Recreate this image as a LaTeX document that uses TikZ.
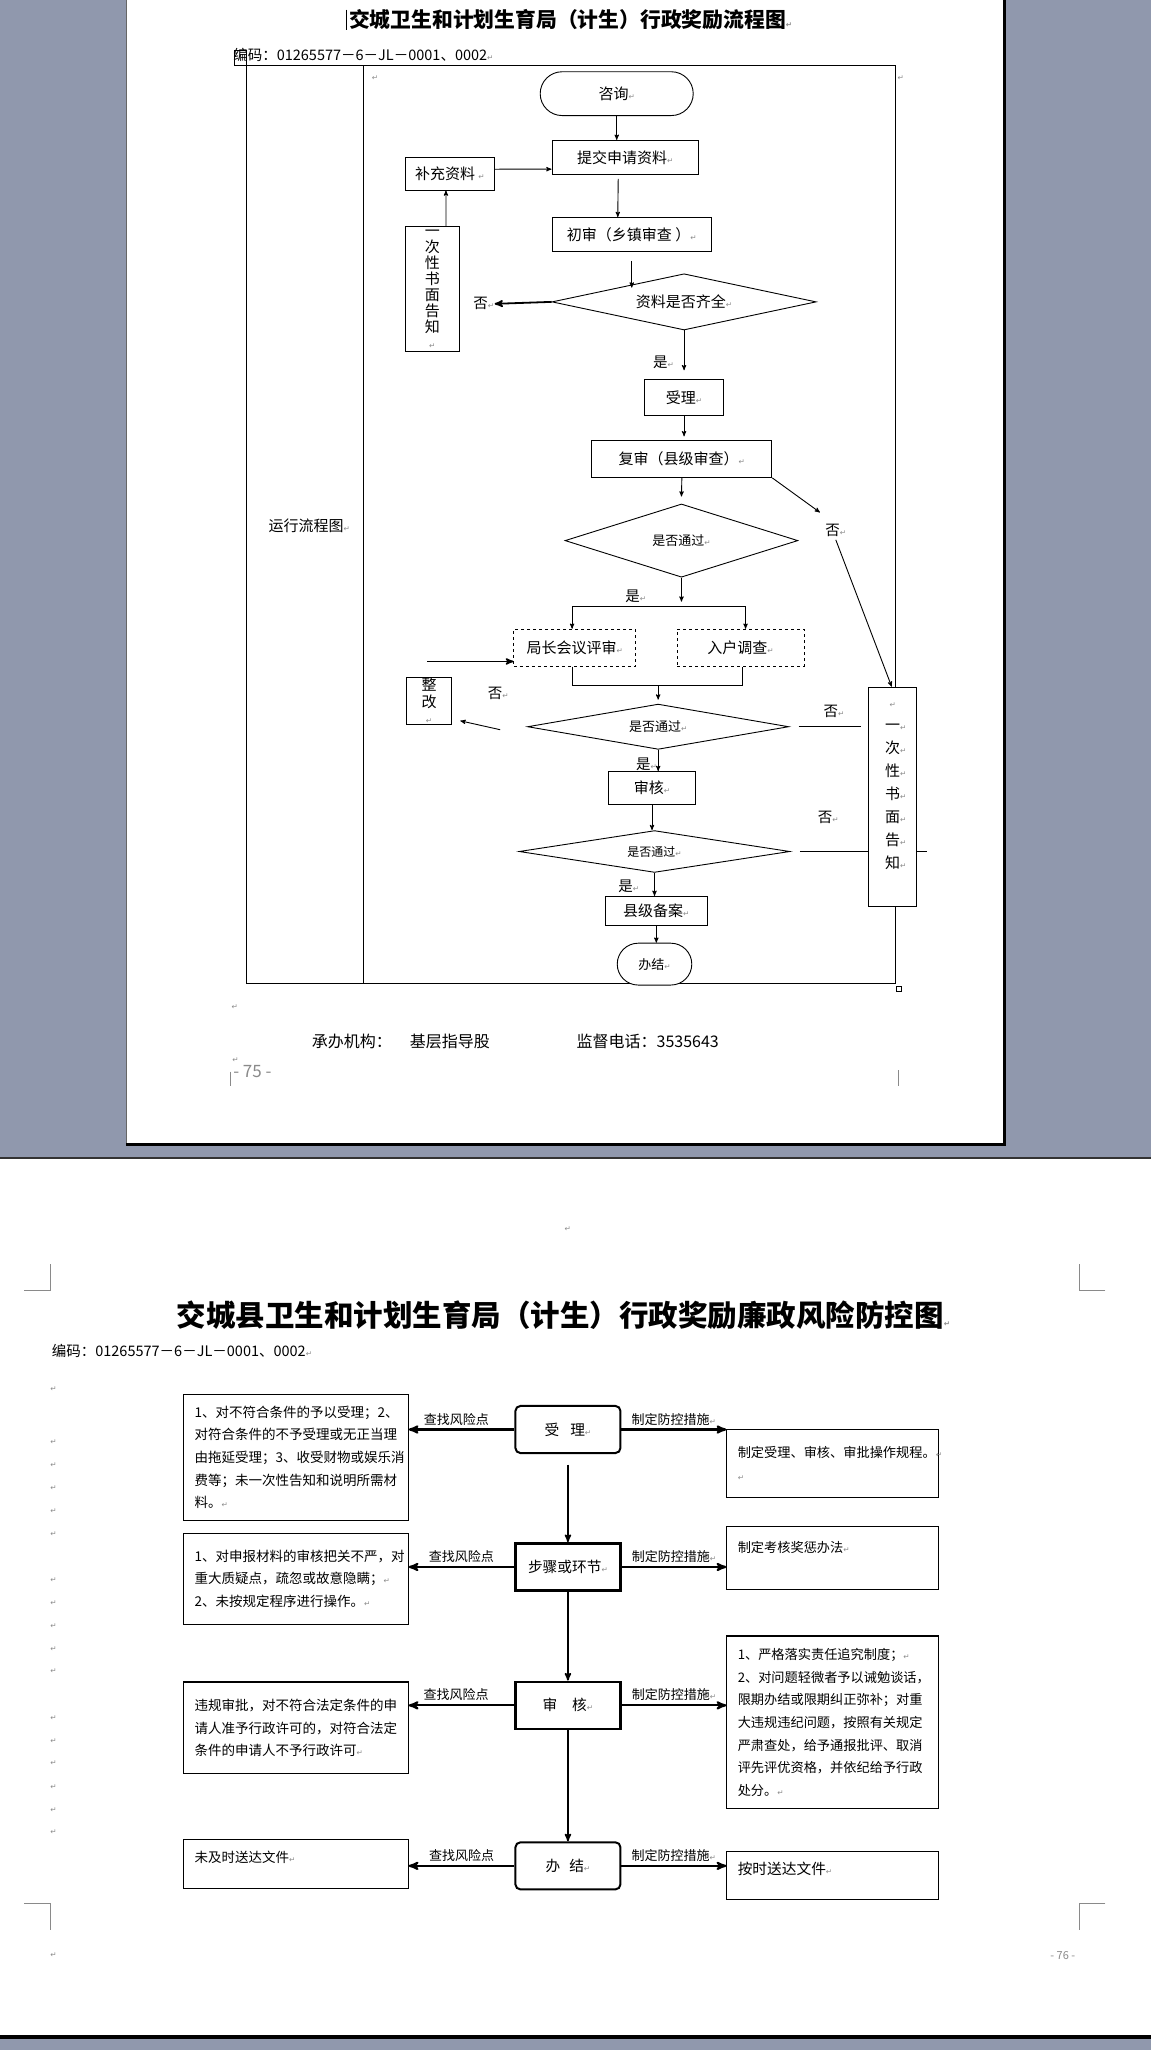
\documentclass[tikz,border=0pt]{standalone}
\usepackage{fontspec}
\setmainfont{Noto Sans CJK SC}
\newfontfamily\dejavu{DejaVu Sans}
\usetikzlibrary{arrows,positioning,shapes,shapes.geometric,shapes.misc}
\definecolor{deskgray}{HTML}{9098AD}
\definecolor{markgray}{HTML}{8A8A8A}
\newcommand\rmk{{\dejavu\color{markgray}\fontsize{7.5}{7.5}\selectfont ↵}}

\begin{document}
\begin{tikzpicture}[>=stealth',x=1.308pt,y=-1.308pt,line width=0.9pt,
  wh/.style 2 args={minimum width=#1*1.308pt,minimum height=#2*1.308pt},
  box/.style={draw,rectangle,fill=white,inner sep=0pt,font=\fontsize{15}{18}\selectfont},
  dbox/.style={box,dashed},
  vbox/.style={box,align=center},
  term/.style={draw,rounded rectangle,fill=white,inner sep=0pt,font=\fontsize{15}{18}\selectfont},
  dec/.style={draw,diamond,fill=white,inner sep=0pt,font=\fontsize{13}{15}\selectfont},
  yn/.style={anchor=west,inner sep=0pt,font=\fontsize{14.5}{17}\selectfont},
  plain/.style={anchor=west,inner sep=0pt},
  stage/.style={draw,rectangle,fill=white,inner sep=0pt,line width=2pt,wh={80.3}{36},font=\fontsize{14.7}{17}\selectfont},
  risk/.style={draw,rectangle,fill=white,line width=1.2pt,inner xsep=11pt,inner ysep=0pt,text width=202.6pt,align=left,font=\fontsize{13.5}{22.6}\selectfont},
  ctrl/.style={risk,inner xsep=10.9pt,text width=189.7pt,font=\fontsize{13.2}{22.6}\selectfont},
  tag/.style={font=\fontsize{13}{15}\selectfont}]

% desk and pages
\fill[deskgray] (0,0) rectangle (880,1567);
\fill[white] (96.5,0) rectangle (766.6,873.6);
\fill[black] (766.6,0) rectangle (769,875.6);
\fill[black] (96.5,873.6) rectangle (769,875.6);
\draw[black!60,line width=0.8pt] (96.5,0) -- (96.5,873.6);
\fill[black!80] (0,884.3) rectangle (880,885.6);
\fill[white] (0,885.6) rectangle (880,1555.8);
\fill[black] (0,1555.8) rectangle (880,1558.3);
\useasboundingbox (0,0) rectangle (880,1567);

% page 75
\draw[line width=0.8pt] (265,7) -- (265,23);
\node[plain,font=\bfseries\fontsize{20.8}{24}\selectfont] (title1) at (266.5,15) {交城卫生和计划生育局（计生）行政奖励流程图\rmk};
\node[plain,font=\fontsize{14.5}{17}\selectfont] (code1) at (178,42) {编码：01265577－6－JL－0001、0002\rmk};
\draw (188.6,49.7) rectangle (684.3,751.6);
\draw (277.8,49.7) -- (277.8,751.6);
\draw[line width=0.6pt] (179.5,38.5) rectangle (188.6,49.7);
\draw[line width=0.6pt] (685,753.5) rectangle (689,757.5);
\node[plain,font=\fontsize{15}{18}\selectfont] (lane) at (205,402) {运行流程图\rmk};
\node[inner sep=0pt] (m1) at (286.7,59.7) {\rmk};
\node[inner sep=0pt] (m2) at (688.6,59.5) {\rmk};

\node[term,wh={117}{33.5}] (zx) at (471.5,71.3) {咨询\rmk};
\node[box,wh={112}{26}] (tj) at (478,120) {提交申请资料\rmk};
\node[box,wh={68}{25}] (bc) at (344,132.5) {补充资料\ \rmk};
\node[box,wh={122}{26}] (cs) at (483,179) {初审（乡镇审查 ）\rmk};
\node[dec,shape aspect=4.7,wh={202}{43},font=\fontsize{15}{18}\selectfont] (d1) at (523,230.5) {资料是否齐全\rmk};
\node[vbox,wh={41}{95.5},font=\fontsize{15}{16}\selectfont] (gz1) at (330.5,220.7) {一\\次\\性\\书\\面\\告\\知\\\rmk};
\node[yn] (no1) at (361.6,232) {否\rmk};
\node[yn] (yes1) at (499,277) {是\rmk};
\node[box,wh={60}{27}] (sl) at (523,303.5) {受理\rmk};
\node[box,wh={137.5}{28}] (fs) at (521.3,350.7) {复审（县级审查）\rmk};
\node[dec,shape aspect=3.2,wh={178}{56}] (d2) at (521,413) {是否通过\rmk};
\node[yn] (no2) at (630.7,405) {否\rmk};
\node[yn] (yes2) at (477.8,455.7) {是\rmk};
\node[dbox,wh={93}{28.3}] (jz) at (439.4,494.9) {局长会议评审\rmk};
\node[dbox,wh={97}{28.3}] (rh) at (566.2,494.9) {入户调查\rmk};
\node[vbox,wh={35}{36},font=\fontsize{15}{16.2}\selectfont] (zg) at (328,535.5) {整\\改\\\rmk};
\node[yn] (no3) at (372.6,530) {否\rmk};
\node[dec,shape aspect=5.8,wh={199.6}{34.6}] (d3) at (503.2,555.3) {是否通过\rmk};
\node[yn] (no4) at (629.3,543.6) {否\rmk};
\node[vbox,wh={37}{167.7},font=\fontsize{15}{23}\selectfont] (gz2) at (682.5,608.9)
  {\rmk\\一\rlap{\rmk}\\次\rlap{\rmk}\\性\rlap{\rmk}\\书\rlap{\rmk}\\面\rlap{\rmk}\\告\rlap{\rmk}\\知\rlap{\rmk}\\\mbox{}};
\node[yn] (yes3) at (485.9,584) {是\rmk};
\node[box,wh={67}{25.5}] (sh) at (498.5,602.3) {审核\rmk};
\node[yn] (no5) at (625,625) {否\rmk};
\node[dec,shape aspect=6.5,wh={207}{32},font=\fontsize{12}{14}\selectfont] (d4) at (500.4,650.7) {是否通过\rmk};
\node[yn] (yes4) at (472.5,677.4) {是\rmk};
\node[box,wh={77.5}{22}] (ba) at (501.8,696) {县级备案\rmk};
\node[term,wh={57}{32},font=\fontsize{13}{15}\selectfont] (bj) at (500.4,736.8) {办结\rmk};

\draw[->] (zx.south) -- (zx.south |- tj.north);
\draw[->] ([yshift=4.5pt]bc.east) -- ([yshift=-11.8pt]tj.west);
\draw[->] ([xshift=-7pt,yshift=-4pt]tj.south) -- ([xshift=-14pt]cs.north);
\draw[->] ([yshift=-9pt]cs.south) -- (cs.south |- d1.north west);
\draw[->,line width=1.8pt] (d1.west) -- (no1.east);
\draw[->] ([xshift=13.7pt]gz1.north) -- ([xshift=-4pt]bc.south);
\draw[->] (d1.south) -- ([yshift=9pt]sl.north);
\draw[->] (sl.south) -- ([yshift=4pt]sl.south |- fs.north);
\draw[->] (fs.south) -- ([yshift=7pt]d2.north);
\draw[->] (fs.south east) -- ([xshift=-5pt,yshift=11pt]no2.north west);
\draw[->] ([yshift=-3pt]no2.south) -- ([xshift=-1pt]gz2.north);
\draw[->] (d2.south) -- ([yshift=-24pt]d2.south);
\coordinate (forkl) at (437.4,463.2);
\coordinate (forkr) at (570,463.2);
\draw (forkl) -- (forkr);
\draw[->] (forkl) -- (forkl |- jz.north);
\draw[->] (forkr) -- (forkr |- rh.north);
\coordinate (mrgl) at (437.4,524);
\coordinate (mrgr) at (568,524);
\draw (jz.south -| mrgl) -- (mrgl) -- (mrgr) -- (rh.south -| mrgr);
\draw[->] (d3.north |- mrgl) -- ([yshift=4pt]d3.north);
\coordinate (jzin) at (326.5,505.4);
\draw[->,line width=1.6pt] (jzin) -- (jzin -| jz.west);
\draw[->] ([xshift=-27pt,yshift=-3pt]d3.west) -- ([xshift=8pt,yshift=4pt]zg.south east);
\draw ([xshift=9.5pt]d3.east) -- ++(47.5,0);
\draw[->] (d3.south) -- (d3.south |- sh.north);
\draw[->] (sh.south) -- (sh.south |- d4.north);
\draw ([xshift=9.5pt]d4.east) -- (gz2.west |- d4.east);
\draw (gz2.east |- d4.east) -- ++(7.4,0);
\draw[->] (d4.south) -- (d4.south |- ba.north);
\draw[->] (ba.south) -- (ba.south |- bj.north);

\node[inner sep=0pt] (m4) at (179.5,770) {\rmk};
\node[plain,font=\fontsize{16}{19}\selectfont] (org) at (238,796) {承办机构：\hspace{18pt}基层指导股};
\node[plain,font=\fontsize{16}{19}\selectfont] (tel) at (440.5,796) {监督电话：3535643};
\node[inner sep=0pt] (m5) at (180,810) {\rmk};
\node[plain,text=markgray,font=\fontsize{17}{20}\selectfont] (pg1) at (178,819) {- 75 -};
\draw[markgray,line width=0.8pt] (176.5,819) -- (176.5,830);
\draw[markgray,line width=0.8pt] (687,818) -- (687,830);

% page 76
\node[inner sep=0pt] (m6) at (434,939.6) {\rmk};
\draw[markgray,line width=0.8pt] (18.5,986) -- (38.2,986) -- (38.2,966.4);
\draw[markgray,line width=0.8pt] (845,986) -- (825,986) -- (825,966.4);
\draw[markgray,line width=0.8pt] (18.5,1455) -- (38.2,1455) -- (38.2,1475.6);
\draw[markgray,line width=0.8pt] (845,1455) -- (825,1455) -- (825,1475.6);
\node[plain,font=\bfseries\fontsize{29.5}{34}\selectfont] (title2) at (134.8,1005) {交城县卫生和计划生育局（计生）行政奖励廉政风险防控图\rmk};
\node[plain,font=\fontsize{14.5}{17}\selectfont] (code2) at (39.3,1032.6) {编码：01265577－6－JL－0001、0002\rmk};
\foreach \yy [count=\i] in {1062,1102,1119.5,1137.4,1155,1172.8,1208,1225.3,1243,1260.2,1277.5,1313,1330.8,1348,1366,1383.3,1400.4,1494.6}
  \node[inner sep=0pt] (pm\i) at (41,\yy) {\rmk};

\node[stage,rounded corners=5pt] (c1) at (434.2,1092.6) {受\hspace{11pt}理\rmk};
\node[stage,line width=2.6pt] (c2) at (434.2,1197.7) {步骤或环节\rmk};
\node[stage,line width=2.4pt] (c3) at (434.2,1303.5) {审\quad 核\rmk};
\node[stage,rounded corners=5pt] (c4) at (434.2,1426.2) {办\hspace{9pt}结\rmk};

\node[risk,minimum height=96.2*1.308pt] (l1) at (226.2,1113.9) {1、对不符合条件的予以受理；2、\\对符合条件的不予受理或无正当理\\由拖延受理；3、收受财物或娱乐消\\费等；未一次性告知和说明所需材\\料。\rmk};
\node[risk,minimum height=69.8*1.308pt] (l2) at (226.2,1206.7) {1、对申报材料的审核把关不严，对\\重大质疑点，疏忽或故意隐瞒；\rmk\\2、未按规定程序进行操作。\rmk};
\node[risk,minimum height=70*1.308pt] (l3) at (226.2,1320.7) {违规审批，对不符合法定条件的申\\请人准予行政许可的，对符合法定\\条件的申请人不予行政许可\rmk};
\node[risk,minimum height=37.7*1.308pt] (l4) at (226.2,1424.9) {未及时送达文件\rmk\\[-8.6pt]\mbox{}};

\node[ctrl,minimum height=52*1.308pt] (r1) at (636.55,1118.6) {制定受理、审核、审批操作规程。\rmk\\\rmk};
\node[ctrl,minimum height=48*1.308pt] (r2) at (636.55,1191) {制定考核奖惩办法\rmk\\\mbox{}};
\node[ctrl,minimum height=132*1.308pt] (r3) at (636.55,1316.5) {1、严格落实责任追究制度；\rmk\\2、对问题轻微者予以诫勉谈话，\\限期办结或限期纠正弥补；对重\\大违规违纪问题，按照有关规定\\严肃查处，给予通报批评、取消\\评先评优资格，并依纪给予行政\\处分。\rmk};
\node[ctrl,minimum height=37*1.308pt,font=\fontsize{14.7}{22.6}\selectfont] (r4) at (636.55,1433.5) {按时送达文件\rmk\\[-9.2pt]\mbox{}};

\draw[->,line width=1.6pt] ([yshift=-10.5pt]c1.south) -- (c2.north);
\draw[->,line width=1.6pt] (c2.south) -- (c3.north);
\draw[->,line width=1.6pt] (c3.south) -- (c4.north);

\draw[->,line width=2.2pt] (c1.west) -- (c1.west -| l1.east) node[tag,pos=.55,above] (f1) {查找风险点};
\draw[->,line width=2.2pt] (c1.east) -- (c1.east -| r1.west) node[tag,midway,above] (g1) {制定防控措施\rmk};
\draw[->,line width=2.2pt] (c2.west) -- (c2.west -| l2.east) node[tag,pos=.5,above] (f2) {查找风险点};
\draw[->,line width=2.2pt] (c2.east) -- (c2.east -| r2.west) node[tag,midway,above] (g2) {制定防控措施\rmk};
\draw[->,line width=2.2pt] (c3.west) -- (c3.west -| l3.east) node[tag,pos=.55,above] (f3) {查找风险点};
\draw[->,line width=2.2pt] (c3.east) -- (c3.east -| r3.west) node[tag,midway,above] (g3) {制定防控措施\rmk};
\draw[->,line width=2.2pt] (c4.west) -- (c4.west -| l4.east) node[tag,pos=.5,above] (f4) {查找风险点};
\draw[->,line width=2.2pt] (c4.east) -- (c4.east -| r4.west) node[tag,midway,above] (g4) {制定防控措施\rmk};

\node[plain,text=markgray,font=\fontsize{11}{13}\selectfont] (pg2) at (802.7,1494.6) {- 76 -};
\end{tikzpicture}
\end{document}
